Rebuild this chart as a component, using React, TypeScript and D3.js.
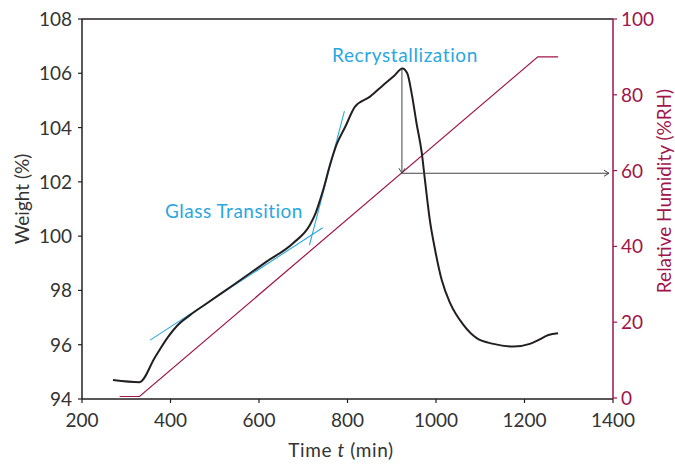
import * as d3 from "d3";
import React from "react";

// weight curve (black)
const timeW = [270, 330, 365, 395, 415, 444, 480, 542, 617, 677, 715, 728, 738, 745, 760, 775, 795, 817, 851, 881, 905, 924, 935, 945, 956, 968, 975, 986, 998, 1013, 1032, 1062, 1092, 1130, 1175, 1212, 1231, 1254, 1276];
const weight = [94.7, 94.62, 95.54, 96.3, 96.7, 97.09, 97.5, 98.2, 99.06, 99.74, 100.41, 100.85, 101.33, 101.7, 102.6, 103.36, 104.03, 104.77, 105.14, 105.57, 105.9, 106.18, 106.0, 105.26, 104.16, 103.05, 102.07, 100.6, 99.49, 98.38, 97.53, 96.73, 96.24, 96.03, 95.93, 96.03, 96.17, 96.36, 96.42];

// relative humidity program (crimson)
const timeRH = [285, 330, 1230, 1276];
const humidity = [0.4, 0.4, 90, 90];

// tangent lines for the glass transition
const tangentA = [[354, 96.17], [744, 100.31]];
const tangentB = [[714, 99.67], [793, 104.61]];

// annotation arrow: peak time, weight at peak, RH where it meets the ramp, arrow end time
const arrowT = 923;
const arrowW = 106.15;
const arrowRH = 59.3;
const arrowEndT = 1391;

const xTicks = [200, 400, 600, 800, 1000, 1200, 1400];
const yTicks = [94, 96, 98, 100, 102, 104, 106, 108];
const rhTicks = [0, 20, 40, 60, 80, 100];

const W = 675;
const H = 464;
const left = 82, right = 613, top = 19, bottom = 399;

const ink = "#231f20";
const crimson = "#a0154a";
const blue = "#2aa7df";
const font = "Lato, 'DejaVu Sans', sans-serif";

export default function App() {
  const x = d3.scaleLinear().domain([200, 1400]).range([left, right]);
  const y = d3.scaleLinear().domain([94, 108]).range([bottom, top]);
  const yr = d3.scaleLinear().domain([0, 100]).range([bottom - 1, top]);

  const wLine = d3.line<number>()
    .x((d, i) => x(timeW[i]))
    .y(d => y(d))
    .curve(d3.curveMonotoneX);
  const rhLine = d3.line<number>()
    .x((d, i) => x(timeRH[i]))
    .y(d => yr(d));
  const seg = d3.line<number[]>().x(d => x(d[0])).y(d => y(d[1]));

  const ax = x(arrowT);
  const ayTop = y(arrowW);
  const ayBot = yr(arrowRH);
  const axEnd = x(arrowEndT);

  return (
    <svg width={W} height={H} style={{ position: "absolute", left: 0, top: 0, background: "#fff" }} fontFamily={font}>
      {/* frame */}
      <line x1={left} x2={right} y1={top} y2={top} stroke={ink} strokeWidth={1.5} />
      <line x1={left} x2={right} y1={bottom} y2={bottom} stroke={ink} strokeWidth={1.5} />
      <line x1={left} x2={left} y1={top} y2={bottom} stroke={ink} strokeWidth={1.5} />
      <line x1={right} x2={right} y1={top} y2={bottom} stroke={crimson} strokeWidth={1.5} />

      {/* x ticks */}
      {xTicks.map(t => (
        <g key={"x" + t}>
          <line x1={x(t)} x2={x(t)} y1={bottom} y2={bottom + 4} stroke={ink} strokeWidth={1.2} />
          <text x={x(t)} y={bottom + 28} textAnchor="middle" fontSize={19} fill="#333">{t}</text>
        </g>
      ))}
      {/* left ticks */}
      {yTicks.map(t => (
        <g key={"y" + t}>
          <line x1={left - 4} x2={left} y1={y(t)} y2={y(t)} stroke={ink} strokeWidth={1.2} />
          <text x={left - 10} y={y(t) + 7} textAnchor="end" fontSize={19} fill="#333">{t}</text>
        </g>
      ))}
      {/* right ticks */}
      {rhTicks.map(t => (
        <g key={"r" + t}>
          <line x1={right} x2={right + 4} y1={yr(t)} y2={yr(t)} stroke={crimson} strokeWidth={1.2} />
          <text x={right + 8} y={yr(t) + 7} textAnchor="start" fontSize={19} fill={crimson}>{t}</text>
        </g>
      ))}

      {/* axis titles */}
      <text x={341} y={457} textAnchor="middle" fontSize={19} letterSpacing={0.6} fill="#333">
        Time <tspan fontStyle="italic">t</tspan> (min)
      </text>
      <text transform="translate(29,199) rotate(-90)" textAnchor="middle" fontSize={19} fill="#333">Weight (%)</text>
      <text transform="translate(671,191) rotate(-90)" textAnchor="middle" fontSize={19} fill={crimson}>Relative Humidity (%RH)</text>

      {/* RH ramp */}
      <path d={rhLine(humidity) ?? ""} fill="none" stroke={crimson} strokeWidth={1.2} />

      {/* tangents */}
      <path d={seg(tangentA) ?? ""} fill="none" stroke={blue} strokeWidth={1.1} />
      <path d={seg(tangentB) ?? ""} fill="none" stroke={blue} strokeWidth={1.1} />

      {/* weight */}
      <path d={wLine(weight) ?? ""} fill="none" stroke={ink} strokeWidth={2} strokeLinejoin="round" />

      {/* annotation arrows */}
      <g stroke="#444" strokeWidth={1} fill="none">
        <line x1={ax} x2={ax} y1={ayTop} y2={ayBot} />
        <path d={`M${ax - 3},${ayBot - 5}L${ax},${ayBot}L${ax + 3},${ayBot - 5}`} />
        <line x1={ax} x2={axEnd} y1={ayBot} y2={ayBot} />
        <path d={`M${axEnd - 5},${ayBot - 3}L${axEnd},${ayBot}L${axEnd - 5},${ayBot + 3}`} />
      </g>

      {/* labels */}
      <text x={234} y={218} textAnchor="middle" fontSize={19} letterSpacing={0.5} fill={blue}>Glass Transition</text>
      <text x={405} y={62} textAnchor="middle" fontSize={19} letterSpacing={0.6} fill={blue}>Recrystallization</text>
    </svg>
  );
}
